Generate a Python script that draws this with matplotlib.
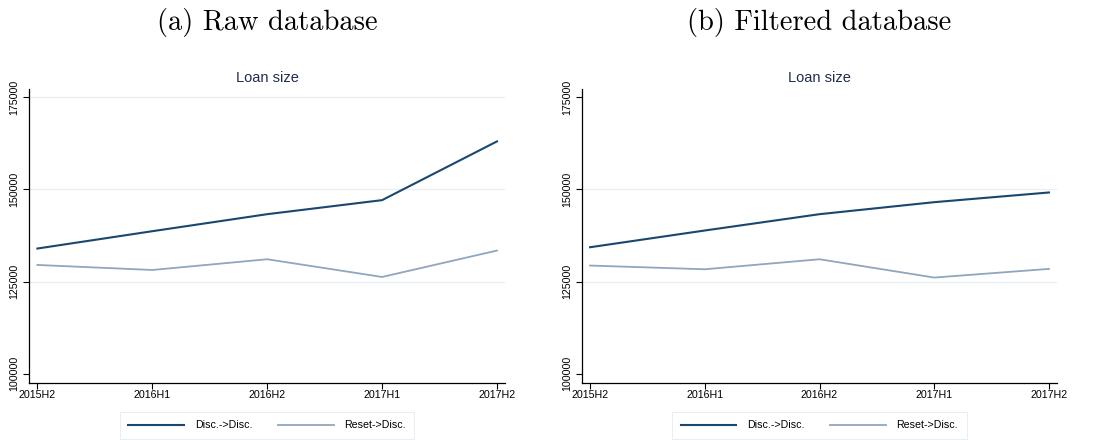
import matplotlib

matplotlib.use("Agg")
import matplotlib.pyplot as plt

# Data (mean loan size by half-year)
periods = ["2015H2", "2016H1", "2016H2", "2017H1", "2017H2"]
raw_disc = [133970, 138670, 143290, 147100, 163040]
raw_reset = [129510, 128150, 131060, 126250, 133420]
filt_disc = [134320, 138860, 143290, 146550, 149180]
filt_reset = [129350, 128340, 131060, 126090, 128440]
yticks = [100000, 125000, 150000, 175000]
series_names = ["Disc.->Disc.", "Reset->Disc."]
captions = ["(a) Raw database", "(b) Filtered database"]

NAVY = "#1a476f"
LIGHT = "#8fa6bd"
TITLE = "#1f2d50"
GRID = "#e9eff2"

plt.rcParams.update({
    "font.family": ["Liberation Sans", "DejaVu Sans"],
    "font.size": 7.5,
    "xtick.labelsize": 7.7,
    "ytick.labelsize": 7.7,
    "axes.spines.top": False,
    "axes.spines.right": False,
    "axes.linewidth": 0.9,
    "xtick.major.size": 4,
    "ytick.major.size": 4,
    "xtick.major.width": 0.8,
    "ytick.major.width": 0.8,
})

fig = plt.figure(figsize=(11, 4.4), dpi=100)
ax_a = fig.add_axes([0.0267, 0.1295, 0.4324, 0.6682])
ax_b = fig.add_axes([0.5291, 0.1295, 0.4318, 0.6682])

panels = [
    (ax_a, raw_disc, raw_reset, captions[0], [125000, 150000, 175000]),
    (ax_b, filt_disc, filt_reset, captions[1], [125000, 150000]),
]

for ax, disc, reset, cap, grid_at in panels:
    x = list(range(len(periods)))
    for g in grid_at:
        ax.axhline(g, color=GRID, lw=1.0, zorder=0)
    ax.plot(x, disc, color=NAVY, lw=1.5, label=series_names[0])
    ax.plot(x, reset, color=LIGHT, lw=1.3, label=series_names[1])

    ax.set_xlim(-0.07, 4.07)
    ax.set_ylim(97470, 177260)
    ax.set_xticks(x)
    ax.set_xticklabels(periods)
    ax.set_yticks(yticks)
    ax.set_yticklabels([str(v) for v in yticks], rotation=90, va="center")
    ax.tick_params(axis="x", pad=1)
    ax.tick_params(axis="y", pad=3)

    ax.set_title("Loan size", fontsize=10.5, color=TITLE, pad=5)
    ax.text(0.5, 1.0 + 67 / 294, cap, transform=ax.transAxes, ha="center",
            va="center", fontsize=20.5, family="cmr10")

    leg = ax.legend(loc="upper center", bbox_to_anchor=(0.5, -0.08), ncol=2,
                    frameon=True, fancybox=False, fontsize=7.7, handlelength=5.2,
                    columnspacing=2.4, borderpad=0.8, handletextpad=1.0)
    leg.get_frame().set_edgecolor("#e3eaee")
    leg.get_frame().set_linewidth(0.8)

fig.savefig("out.png", dpi=100, facecolor="white")
